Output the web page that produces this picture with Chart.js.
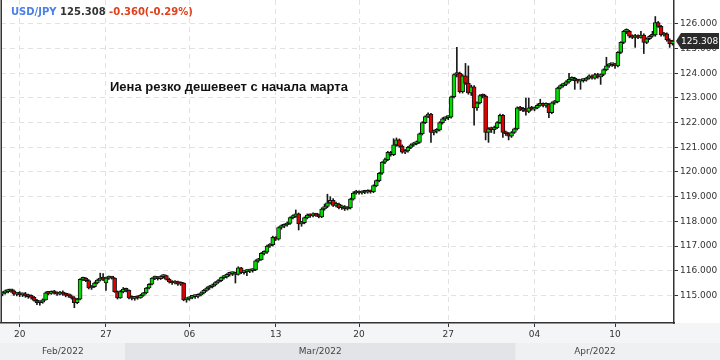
<!DOCTYPE html>
<html>
<head>
<meta charset="utf-8">
<script src="https://cdn.jsdelivr.net/npm/chart.js@4/dist/chart.umd.min.js"></script>
<style>
  html, body { margin: 0; padding: 0; background: #fff; }
  #wrap { width: 720px; height: 360px; }
</style>
</head>
<body>
<div id="wrap"><canvas id="fxChart"></canvas></div>
<script>
// USD/JPY 4h candles, 18 Feb - 13 Apr 2022 (weekends skipped)
const opens = [
  115.05,115.10,115.15,115.20,115.18,115.05,115.08,115.02,115.05,114.98,
  114.95,114.92,114.80,114.70,114.72,114.82,115.10,115.08,115.12,115.10,
  115.05,115.10,115.05,115.00,114.98,114.90,114.70,114.85,115.65,115.70,
  115.60,115.30,115.35,115.50,115.62,115.70,115.50,115.70,115.72,115.70,
  115.15,114.90,115.15,115.25,115.20,114.90,114.88,114.92,114.90,115.00,
  115.10,115.30,115.45,115.70,115.72,115.68,115.76,115.80,115.65,115.55,
  115.50,115.56,115.45,115.50,114.82,114.86,114.92,114.95,114.96,115.02,
  115.10,115.20,115.30,115.35,115.42,115.52,115.60,115.72,115.75,115.85,
  115.88,115.90,115.85,116.12,115.92,115.96,115.98,116.00,116.04,116.40,
  116.45,116.70,116.75,117.00,117.05,117.35,117.28,117.75,117.80,117.85,
  117.92,118.15,118.20,118.30,117.90,117.95,118.15,118.25,118.22,118.28,
  118.25,118.18,118.50,118.60,118.75,118.85,118.65,118.70,118.55,118.60,
  118.50,118.55,118.90,119.15,119.20,119.15,119.20,119.18,119.22,119.20,
  119.45,119.65,119.95,120.40,120.50,120.80,120.70,121.10,121.30,121.05,
  120.80,120.85,121.00,121.10,121.15,121.20,121.55,122.00,122.25,122.35,
  121.60,121.65,121.70,122.00,122.15,122.20,122.22,123.05,123.95,124.00,
  123.25,123.90,123.60,123.20,123.45,122.60,122.80,123.10,123.08,121.60,
  121.75,121.72,121.80,122.00,122.30,121.60,121.55,121.45,121.60,121.75,
  122.60,122.55,122.50,122.45,122.60,122.55,122.60,122.70,122.72,122.70,
  122.75,122.40,122.80,122.85,123.40,123.50,123.55,123.65,123.75,123.80,
  123.70,123.68,123.70,123.72,123.80,123.90,123.80,123.95,123.85,123.95,
  124.15,124.30,124.35,124.35,124.30,124.85,125.25,125.70,125.70,125.50,
  125.45,125.50,125.45,125.55,125.25,125.40,125.50,125.55,126.05,125.90,
  125.55,125.60,125.35,125.20
];
const highs = [
  115.15,115.22,115.25,115.24,115.22,115.12,115.15,115.10,115.12,115.05,
  115.02,114.96,114.84,114.78,114.86,115.14,115.16,115.18,115.20,115.14,
  115.16,115.18,115.10,115.06,115.02,114.95,114.88,115.68,115.74,115.72,
  115.64,115.40,115.54,115.66,115.90,115.88,115.74,115.78,115.76,115.72,
  115.18,115.20,115.32,115.30,115.22,114.98,114.96,114.98,115.04,115.12,
  115.32,115.48,115.72,115.78,115.76,115.80,115.84,115.82,115.70,115.60,
  115.60,115.58,115.55,115.52,114.90,114.95,115.00,115.02,115.06,115.14,
  115.24,115.34,115.40,115.46,115.56,115.64,115.74,115.80,115.88,115.94,
  115.95,115.94,116.16,116.14,116.00,116.04,116.06,116.08,116.44,116.50,
  116.74,116.80,117.04,117.10,117.40,117.38,117.78,117.86,117.90,117.98,
  118.18,118.26,118.46,118.34,118.00,118.18,118.30,118.30,118.34,118.32,
  118.30,118.55,118.70,119.10,119.00,118.92,118.78,118.74,118.66,118.64,
  118.60,118.94,119.20,119.26,119.24,119.24,119.26,119.28,119.26,119.48,
  119.68,119.98,120.42,120.56,120.84,120.84,121.35,121.38,121.34,121.10,
  120.92,121.04,121.14,121.20,121.26,121.58,122.04,122.28,122.40,122.38,
  121.70,121.76,122.04,122.20,122.24,122.28,123.08,123.98,125.05,124.05,
  123.95,124.40,124.30,123.52,123.50,122.84,123.14,123.16,123.12,121.80,
  121.82,121.86,122.04,122.35,122.34,121.66,121.60,121.64,121.78,122.64,
  122.66,122.62,123.00,123.00,122.66,122.64,122.76,122.95,122.80,122.80,
  122.78,122.84,122.90,123.44,123.54,123.60,123.70,124.00,123.86,123.84,
  123.76,123.74,123.78,123.84,123.94,123.94,124.00,124.00,123.98,124.18,
  124.65,124.40,124.40,124.40,124.88,125.28,125.74,125.80,125.74,125.56,
  125.58,125.56,125.70,125.60,125.44,125.54,125.70,126.30,126.10,125.94,
  125.66,125.64,125.40,125.34
];
const lows = [
  114.98,115.05,115.10,115.12,115.00,114.98,114.95,114.95,114.92,114.88,
  114.85,114.76,114.62,114.60,114.68,114.80,115.02,115.04,115.05,115.00,
  115.02,115.00,114.94,114.92,114.85,114.50,114.66,114.82,115.60,115.55,
  115.26,115.24,115.32,115.46,115.58,115.60,115.20,115.65,115.66,115.12,
  114.85,114.88,115.10,115.14,114.86,114.82,114.80,114.84,114.88,114.96,
  115.06,115.26,115.42,115.64,115.62,115.64,115.70,115.62,115.50,115.44,
  115.46,115.40,115.40,114.78,114.72,114.80,114.86,114.88,114.90,114.98,
  115.06,115.16,115.24,115.30,115.38,115.48,115.56,115.66,115.70,115.78,
  115.80,115.50,115.82,115.88,115.86,115.80,115.92,115.94,116.00,116.34,
  116.42,116.64,116.70,116.94,117.00,117.22,117.24,117.68,117.74,117.80,
  117.88,118.10,118.16,117.65,117.80,117.90,118.10,118.16,118.18,118.20,
  118.14,118.15,118.45,118.55,118.70,118.60,118.58,118.50,118.48,118.44,
  118.46,118.50,118.86,119.10,119.10,119.10,119.12,119.14,119.14,119.16,
  119.40,119.60,119.90,120.34,120.46,120.64,120.66,121.04,121.00,120.76,
  120.74,120.80,120.94,121.04,121.10,121.16,121.50,121.96,122.20,121.20,
  121.50,121.58,121.66,121.94,122.08,122.12,122.18,123.00,123.85,123.20,
  123.20,123.55,123.15,123.10,121.90,122.50,122.76,123.00,121.30,121.20,
  121.60,121.56,121.76,121.96,121.40,121.48,121.30,121.40,121.56,121.70,
  122.48,122.44,122.30,122.40,122.50,122.48,122.56,122.66,122.64,122.62,
  122.20,122.36,122.74,122.80,123.36,123.44,123.50,123.60,123.70,123.35,
  123.60,123.35,123.64,123.68,123.76,123.76,123.76,123.80,123.55,123.90,
  124.10,124.24,124.28,124.20,124.26,124.80,125.20,125.60,125.44,125.40,
  125.05,125.40,125.42,124.80,125.20,125.36,125.46,125.50,125.86,125.50,
  125.50,125.30,125.05,125.14
];
const closes = [
  115.10,115.15,115.20,115.18,115.05,115.08,115.02,115.05,114.98,114.95,
  114.92,114.80,114.70,114.72,114.82,115.10,115.08,115.12,115.10,115.05,
  115.10,115.05,115.00,114.98,114.90,114.70,114.85,115.65,115.70,115.60,
  115.30,115.35,115.50,115.62,115.70,115.66,115.70,115.72,115.70,115.15,
  114.90,115.15,115.25,115.20,114.90,114.88,114.92,114.90,115.00,115.10,
  115.30,115.45,115.70,115.72,115.68,115.76,115.80,115.65,115.55,115.50,
  115.56,115.45,115.50,114.82,114.86,114.92,114.95,114.96,115.02,115.10,
  115.20,115.30,115.35,115.42,115.52,115.60,115.72,115.75,115.85,115.88,
  115.90,115.85,116.12,115.92,115.96,115.98,116.00,116.04,116.40,116.45,
  116.70,116.75,117.00,117.05,117.35,117.28,117.75,117.80,117.85,117.92,
  118.15,118.20,118.30,117.90,117.95,118.15,118.25,118.22,118.28,118.25,
  118.18,118.50,118.60,118.75,118.85,118.65,118.70,118.55,118.60,118.50,
  118.55,118.90,119.15,119.20,119.15,119.20,119.18,119.22,119.20,119.45,
  119.65,119.95,120.40,120.50,120.80,120.70,121.10,121.30,121.05,120.80,
  120.85,121.00,121.10,121.15,121.20,121.55,122.00,122.25,122.35,121.60,
  121.65,121.70,122.00,122.15,122.20,122.22,123.05,123.95,124.00,123.25,
  123.90,123.60,123.20,123.45,122.60,122.80,123.10,123.08,121.60,121.75,
  121.72,121.80,122.00,122.30,121.60,121.55,121.45,121.60,121.75,122.60,
  122.55,122.50,122.45,122.60,122.55,122.60,122.70,122.72,122.70,122.75,
  122.40,122.80,122.85,123.40,123.50,123.55,123.65,123.75,123.80,123.70,
  123.68,123.70,123.72,123.80,123.90,123.80,123.95,123.85,123.95,124.15,
  124.30,124.35,124.35,124.30,124.85,125.25,125.70,125.70,125.50,125.45,
  125.50,125.45,125.55,125.25,125.40,125.50,125.55,126.05,125.90,125.55,
  125.60,125.35,125.20,125.308
];

// x axis: candle index of each date tick, and its text
const tickIndex = [6, 36, 65, 95, 124, 155, 185, 213];
const tickText = ["20", "27", "06", "13", "20", "27", "04", "10"];
// month strip: first candle of each month
const monthStart = [0, 43, 179];
const monthText = ["Feb/2022", "Mar/2022", "Apr/2022"];
const priceTicks = [115, 116, 117, 118, 119, 120, 121, 122, 123, 124, 125, 126];

const lastPrice = "125.308";
const change = "-0.360(-0.29%)";
const note = "Иена резко дешевеет с начала марта";

const labels = closes.map((_, i) => i);
const bodyColors = closes.map((c, i) => (c >= opens[i] ? "#00dc00" : "#e00000"));

const decorPlugin = {
  id: "decor",
  beforeDraw(chart) {
    const { ctx, chartArea, width, height } = chart;
    const x = chart.scales.x;
    ctx.save();
    ctx.fillStyle = "#ffffff";
    ctx.fillRect(0, 0, width, height);
    // tick label row
    ctx.fillStyle = "#f4f5f7";
    ctx.fillRect(0, chartArea.bottom, width, 20);
    // month strip
    const half = (x.getPixelForValue(1) - x.getPixelForValue(0)) / 2;
    monthStart.forEach((m, k) => {
      const x0 = k === 0 ? 0 : x.getPixelForValue(m) - half;
      const x1 = k === monthStart.length - 1 ? width : x.getPixelForValue(monthStart[k + 1]) - half;
      ctx.fillStyle = k % 2 === 1 ? "#e3e4e7" : "#eff0f2";
      ctx.fillRect(x0, chartArea.bottom + 20, x1 - x0, height - chartArea.bottom - 20);
    });
    ctx.restore();
  },
  afterDraw(chart) {
    const { ctx, chartArea, width, height } = chart;
    const x = chart.scales.x;
    const y = chart.scales.y;
    ctx.save();
    // left border
    ctx.strokeStyle = "#333";
    ctx.lineWidth = 1.5;
    ctx.beginPath();
    ctx.moveTo(chartArea.left + 0.25, chartArea.top);
    ctx.lineTo(chartArea.left + 0.25, chartArea.bottom);
    ctx.stroke();

    // month labels
    const half = (x.getPixelForValue(1) - x.getPixelForValue(0)) / 2;
    ctx.font = "9px 'DejaVu Sans'";
    ctx.fillStyle = "#444";
    ctx.textAlign = "center";
    ctx.textBaseline = "middle";
    monthStart.forEach((m, k) => {
      const x0 = k === 0 ? chartArea.left : x.getPixelForValue(m) - half;
      const x1 = k === monthStart.length - 1 ? chartArea.right : x.getPixelForValue(monthStart[k + 1]) - half;
      ctx.fillText(monthText[k], (x0 + x1) / 2, height - 8);
    });

    // header
    ctx.textAlign = "left";
    ctx.font = "bold 10px 'DejaVu Sans'";
    let tx = 11;
    const parts = [["USD/JPY ", "#4a80e8"], [lastPrice + " ", "#333"], [change, "#e0401c"]];
    parts.forEach(([t, c]) => {
      ctx.fillStyle = c;
      ctx.fillText(t, tx, 12);
      tx += ctx.measureText(t).width;
    });

    // annotation
    ctx.font = "bold 13px 'Liberation Sans', Arial, sans-serif";
    ctx.fillStyle = "#111";
    ctx.fillText(note, 110, 87);

    // last price marker
    const py = y.getPixelForValue(closes[closes.length - 1]);
    const bx = chartArea.right + 2;
    ctx.fillStyle = "#2b2b2b";
    ctx.beginPath();
    ctx.moveTo(bx, py);
    ctx.lineTo(bx + 5, py - 8);
    ctx.lineTo(width - 1, py - 8);
    ctx.lineTo(width - 1, py + 8);
    ctx.lineTo(bx + 5, py + 8);
    ctx.closePath();
    ctx.fill();
    ctx.fillStyle = "#fff";
    ctx.font = "9px 'DejaVu Sans'";
    ctx.fillText(lastPrice, bx + 5, py + 0.5);
    ctx.restore();
  }
};

const ctx = document.getElementById("fxChart").getContext("2d");
const fxChart = new Chart(ctx, {
  type: "bar",
  data: {
    labels: labels,
    datasets: [
      {
        label: "body",
        data: opens.map((o, i) => [o, closes[i]]),
        backgroundColor: bodyColors,
        borderColor: "#111",
        borderWidth: 1,
        borderSkipped: false,
        barThickness: 4,
        minBarLength: 2,
        grouped: false,
        order: 1
      },
      {
        label: "wick",
        data: lows.map((l, i) => [l, highs[i]]),
        backgroundColor: "#1a1a1a",
        borderWidth: 0,
        barThickness: 1,
        grouped: false,
        order: 2
      }
    ]
  },
  options: {
    responsive: true,
    maintainAspectRatio: false,
    animation: false,
    layout: { padding: { left: 1, right: 0, top: 0, bottom: 15 } },
    plugins: { legend: { display: false }, tooltip: { enabled: false } },
    scales: {
      x: {
        type: "category",
        offset: true,
        afterBuildTicks: (scale) => {
          scale.ticks = tickIndex.map((v) => ({ value: v }));
        },
        afterFit: (scale) => {
          scale.height = 22;
          scale.paddingLeft = 0;
          scale.paddingRight = 0;
        },
        grid: {
          offset: false,
          color: "#e2e2e2",
          tickColor: "#333",
          tickLength: 4,
          tickBorderDash: []
        },
        border: { display: true, color: "#333", width: 1.5, dash: [5, 4] },
        ticks: {
          autoSkip: false,
          maxRotation: 0,
          padding: 2,
          color: "#333",
          font: { family: "DejaVu Sans", size: 9 },
          callback: (value) => tickText[tickIndex.indexOf(value)]
        }
      },
      y: {
        position: "right",
        min: 113.88,
        max: 126.97,
        afterBuildTicks: (scale) => {
          scale.ticks = priceTicks.map((v) => ({ value: v }));
        },
        afterFit: (scale) => {
          scale.width = 46;
          scale.paddingTop = 0;
          scale.paddingBottom = 0;
        },
        grid: {
          color: "#e2e2e2",
          tickColor: "#333",
          tickLength: 4,
          tickBorderDash: []
        },
        border: { display: true, color: "#333", width: 1.5, dash: [5, 4] },
        ticks: {
          padding: 2,
          color: "#333",
          font: { family: "DejaVu Sans", size: 9 },
          callback: (value) => Number(value).toFixed(3)
        }
      }
    }
  },
  plugins: [decorPlugin]
});
</script>
</body>
</html>
